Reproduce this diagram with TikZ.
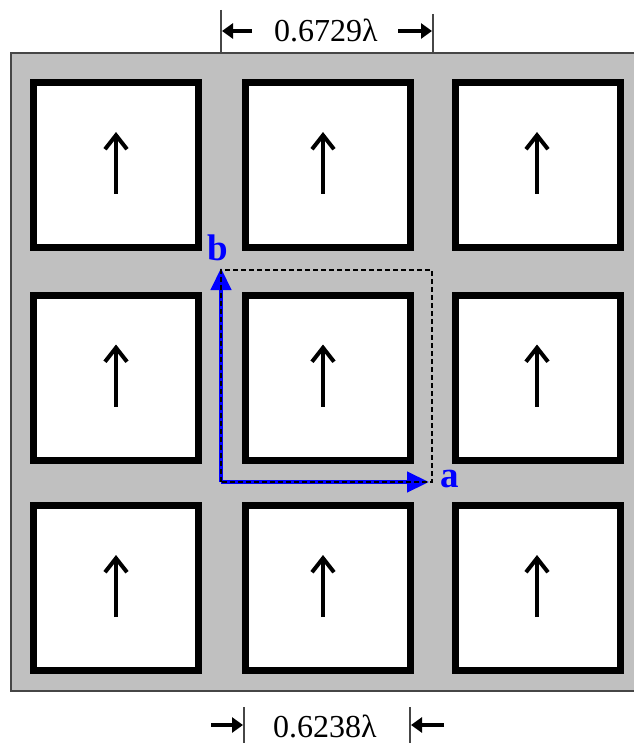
\documentclass[tikz,border=0pt]{standalone}
\usepackage{fontspec}
\setmainfont{Liberation Serif}
\usetikzlibrary{arrows.meta}
\definecolor{panelgray}{RGB}{192,192,192}
\definecolor{edgegray}{RGB}{70,70,70}
\definecolor{vblue}{RGB}{0,0,255}
\tikzset{
  cellbox/.style={draw=black, fill=white, line width=7pt, inner sep=0pt, minimum width=165pt, minimum height=165pt},
  cellarrow/.style={line width=4pt, -{Straight Barb[length=14pt,width=22pt,line width=4pt]}},
  latarrow/.style={draw=vblue, line width=4.5pt, -{Triangle[length=22pt,width=20pt]}},
  cellline/.style={draw=black, line width=2.6pt, dash pattern=on 5pt off 3pt},
  dimarrow/.style={line width=4pt, -{Triangle[length=11pt,width=15pt]}},
  dimtick/.style={draw=edgegray, line width=1.6pt},
  dimtext/.style={font=\fontsize{32}{36}\selectfont, inner sep=0pt, anchor=base},
  veclabel/.style={text=vblue, font=\fontsize{37}{40}\selectfont\bfseries, inner sep=0pt, anchor=base}
}
\begin{document}
\begin{tikzpicture}[x=1pt,y=-1pt]
\useasboundingbox (0,0) rectangle (634,743);
% panel
\fill[panelgray] (11,53) rectangle (634,691);
\draw[edgegray, line width=2pt] (634,53) -- (11,53) -- (11,691) -- (634,691);
% cells
\foreach \cx/\ax [count=\i] in {116/116, 327.5/323, 538/537}{
  \foreach \cy [count=\j] in {165, 377.5, 588}{
    \node[cellbox] (s\i\j) at (\cx,\cy) {};
    \coordinate (ta\i\j) at (\ax,\cy+29);
    \coordinate (tb\i\j) at (\ax,\cy-33);
    \draw[cellarrow] (ta\i\j) -- (tb\i\j);
  }
}
% unit cell and lattice vectors
\coordinate (o) at (221,482);
\coordinate (bt) at (221,270);
\coordinate (at) at (432,482);
\coordinate (ct) at (432,270);
\draw[latarrow] (o) -- ([yshift=2pt]bt);
\draw[latarrow] (o) -- ([xshift=-3pt]at);
\draw[cellline] (o) -- (bt) -- (ct) -- (at) -- cycle;
\node[veclabel] (lb) at (218,260) {b};
\node[veclabel] (la) at (450,487) {a};
% top dimension
\coordinate (t1a) at (221,10);
\coordinate (t1b) at (221,53);
\coordinate (t2a) at (433,14);
\coordinate (t2b) at (433,53);
\draw[dimtick] (t1a) -- (t1b);
\draw[dimtick] (t2a) -- (t2b);
\coordinate (d1s) at (252,31);
\coordinate (d1e) at (222,31);
\coordinate (d2s) at (398,31);
\coordinate (d2e) at (432,31);
\draw[dimarrow] (d1s) -- (d1e);
\draw[dimarrow] (d2s) -- (d2e);
\node[dimtext] (dt) at (326,42) {0.6729λ};
% bottom dimension
\coordinate (b1a) at (244,707);
\coordinate (b1b) at (244,743);
\coordinate (b2a) at (410,707);
\coordinate (b2b) at (410,743);
\draw[dimtick] (b1a) -- (b1b);
\draw[dimtick] (b2a) -- (b2b);
\coordinate (e1s) at (211,725);
\coordinate (e1e) at (243,725);
\coordinate (e2s) at (444,725);
\coordinate (e2e) at (411,725);
\draw[dimarrow] (e1s) -- (e1e);
\draw[dimarrow] (e2s) -- (e2e);
\node[dimtext] (db) at (325,737) {0.6238λ};
\end{tikzpicture}
\end{document}
